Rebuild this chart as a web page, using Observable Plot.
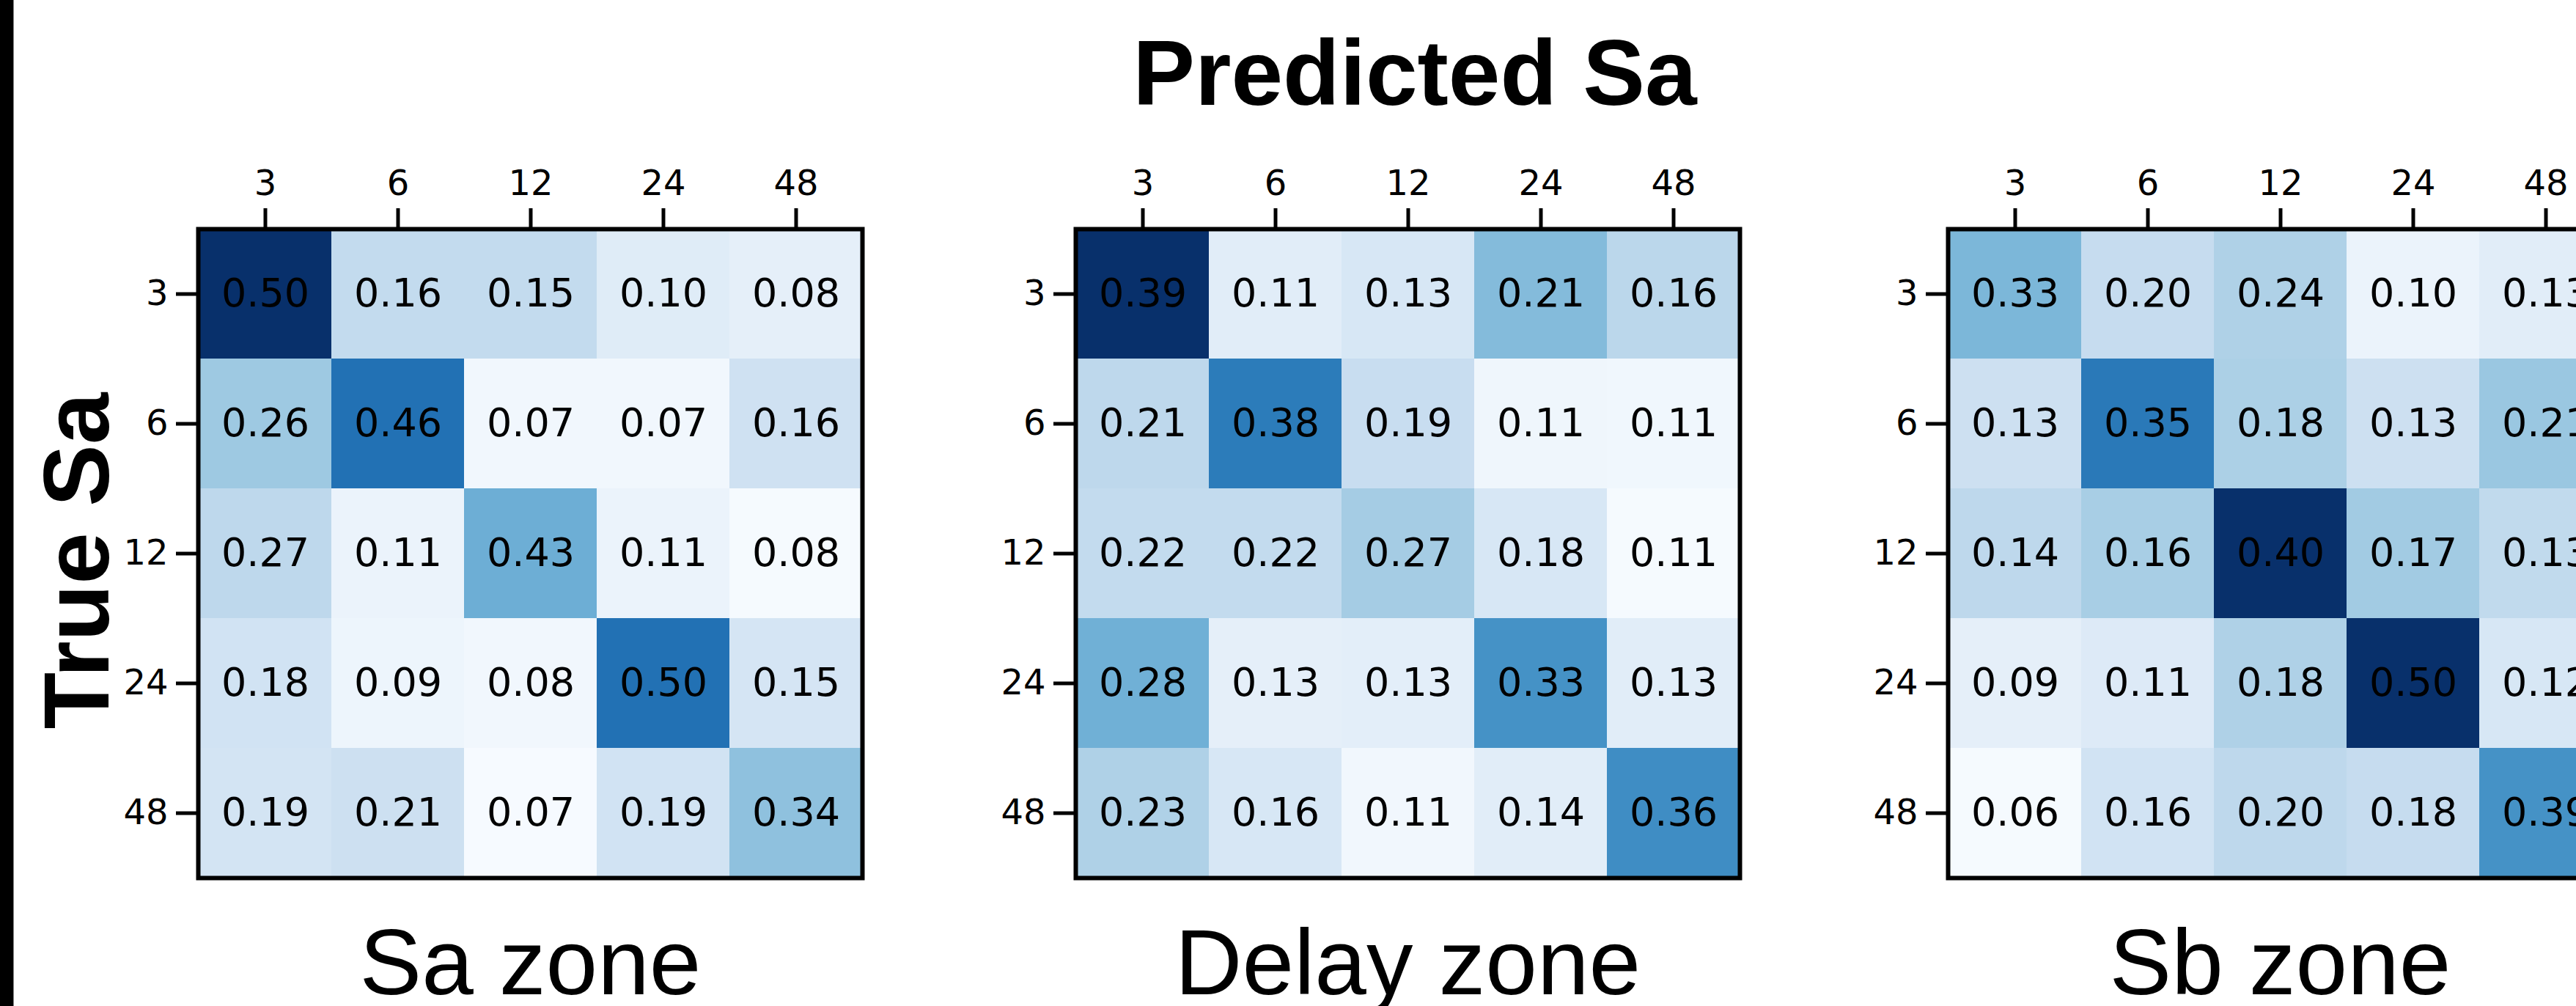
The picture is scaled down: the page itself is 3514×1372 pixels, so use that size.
<!DOCTYPE html>
<html>
<head>
<meta charset="utf-8">
<script src="https://cdn.jsdelivr.net/npm/d3@7"></script>
<script src="https://cdn.jsdelivr.net/npm/@observablehq/plot@0.6"></script>
<style>
  html, body { margin: 0; padding: 0; background: #fff; }
  #page { position: relative; width: 3514px; height: 1372px; overflow: hidden; background: #fff; }
  #edge { position: absolute; left: 0; top: 0; width: 18px; height: 1372px; background: #000; border-right: 1px solid #888; }
  .panel { position: absolute; }
  .panel svg { max-width: none !important; }
  .bigtitle { position: absolute; font-family: "Liberation Sans", Arial, sans-serif; font-size: 127px; line-height: 127px; white-space: nowrap; color: #000; }
</style>
</head>
<body>
<div id="page">
  <div id="edge"></div>
  <div class="bigtitle" id="title" style="left:1930px; top:36px; transform: translateX(-50%); font-weight:700;">Predicted Sa</div>
  <div class="bigtitle" id="ylab" style="left:104px; top:765px; transform: translate(-50%,-50%) rotate(-90deg); font-weight:700;">True Sa</div>
</div>
<script>
// ---- data ----
const saLabels = ["3", "6", "12", "24", "48"];          // tick labels (true & predicted Sa)
const zones = ["Sa zone", "Delay zone", "Sb zone"];

// displayed (row-normalised) values; rows = true Sa, columns = predicted Sa
const saZoneValues = [
  [0.50, 0.16, 0.15, 0.10, 0.08],
  [0.26, 0.46, 0.07, 0.07, 0.16],
  [0.27, 0.11, 0.43, 0.11, 0.08],
  [0.18, 0.09, 0.08, 0.50, 0.15],
  [0.19, 0.21, 0.07, 0.19, 0.34]
];
const delayZoneValues = [
  [0.39, 0.11, 0.13, 0.21, 0.16],
  [0.21, 0.38, 0.19, 0.11, 0.11],
  [0.22, 0.22, 0.27, 0.18, 0.11],
  [0.28, 0.13, 0.13, 0.33, 0.13],
  [0.23, 0.16, 0.11, 0.14, 0.36]
];
const sbZoneValues = [
  [0.33, 0.20, 0.24, 0.10, 0.13],
  [0.13, 0.35, 0.18, 0.13, 0.21],
  [0.14, 0.16, 0.40, 0.17, 0.13],
  [0.09, 0.11, 0.18, 0.50, 0.12],
  [0.06, 0.16, 0.20, 0.18, 0.39]
];

// colour intensity of each cell (0 = lightest, 1 = darkest)
const saZoneShade = [
  [1.00, 0.25, 0.25, 0.12, 0.09],
  [0.37, 0.75, 0.03, 0.03, 0.20],
  [0.27, 0.06, 0.50, 0.06, 0.01],
  [0.19, 0.05, 0.03, 0.75, 0.17],
  [0.18, 0.21, 0.005, 0.19, 0.41]
];
const delayZoneShade = [
  [1.00, 0.11, 0.16, 0.44, 0.28],
  [0.27, 0.71, 0.23, 0.04, 0.035],
  [0.25, 0.25, 0.35, 0.16, 0.01],
  [0.49, 0.09, 0.10, 0.62, 0.11],
  [0.32, 0.16, 0.03, 0.11, 0.64]
];
const sbZoneShade = [
  [0.46, 0.24, 0.32, 0.06, 0.11],
  [0.21, 0.72, 0.33, 0.21, 0.38],
  [0.27, 0.34, 1.00, 0.36, 0.26],
  [0.09, 0.13, 0.32, 1.00, 0.16],
  [0.01, 0.19, 0.27, 0.24, 0.62]
];

const zoneValues = [saZoneValues, delayZoneValues, sbZoneValues];
const zoneShades = [saZoneShade, delayZoneShade, sbZoneShade];

// ---- layout ----
const INNER_W = 906, INNER_H = 885;
const ML = 120, MT = 120, MR = 30, MB = 180;
const PANEL_LEFT = [270, 1467, 2657];
const PANEL_TOP = 312;

const page = document.getElementById("page");

zones.forEach((zone, zi) => {
  const rows = [];
  saLabels.forEach((t, ri) => {
    saLabels.forEach((p, ci) => {
      rows.push({trueSa: t, predSa: p, value: zoneValues[zi][ri][ci], shade: zoneShades[zi][ri][ci]});
    });
  });

  const W = ML + INNER_W + MR, H = MT + INNER_H + MB;
  const chart = Plot.plot({
    width: W,
    height: H,
    marginLeft: ML, marginTop: MT, marginRight: MR, marginBottom: MB,
    style: {fontFamily: "DejaVu Sans", background: "transparent", overflow: "visible", maxWidth: "none"},
    x: {domain: saLabels, padding: 0},
    y: {domain: saLabels, padding: 0},
    color: {type: "linear", scheme: "blues", domain: [0, 1]},
    marks: [
      Plot.cell(rows, {x: "predSa", y: "trueSa", fill: "shade", shapeRendering: "crispEdges"}),
      Plot.text(rows, {x: "predSa", y: "trueSa", text: d => d.value.toFixed(2), fontSize: 54, fill: "black", fontFamily: "DejaVu Sans"}),
      Plot.axisX({anchor: "top", tickSize: 29, tickPadding: 18, strokeWidth: 5, fontSize: 48, label: null, fill: "black"}),
      Plot.axisY({anchor: "left", tickSize: 30, tickPadding: 11, strokeWidth: 5, fontSize: 48, label: null, fill: "black"}),
      Plot.frame({stroke: "black", strokeWidth: 6}),
      Plot.text([zone], {text: d => d, frameAnchor: "bottom", lineAnchor: "bottom", dy: 158, fontSize: 127, fontFamily: "Liberation Sans", fill: "black"})
    ]
  });
  chart.style.maxWidth = "none";
  chart.style.width = W + "px";
  chart.style.height = H + "px";
  const holder = document.createElement("div");
  holder.className = "panel";
  holder.style.left = (PANEL_LEFT[zi] - ML) + "px";
  holder.style.top = (PANEL_TOP - MT) + "px";
  holder.style.width = W + "px";
  holder.style.height = H + "px";
  holder.appendChild(chart);
  page.appendChild(holder);
});
</script>
</body>
</html>
